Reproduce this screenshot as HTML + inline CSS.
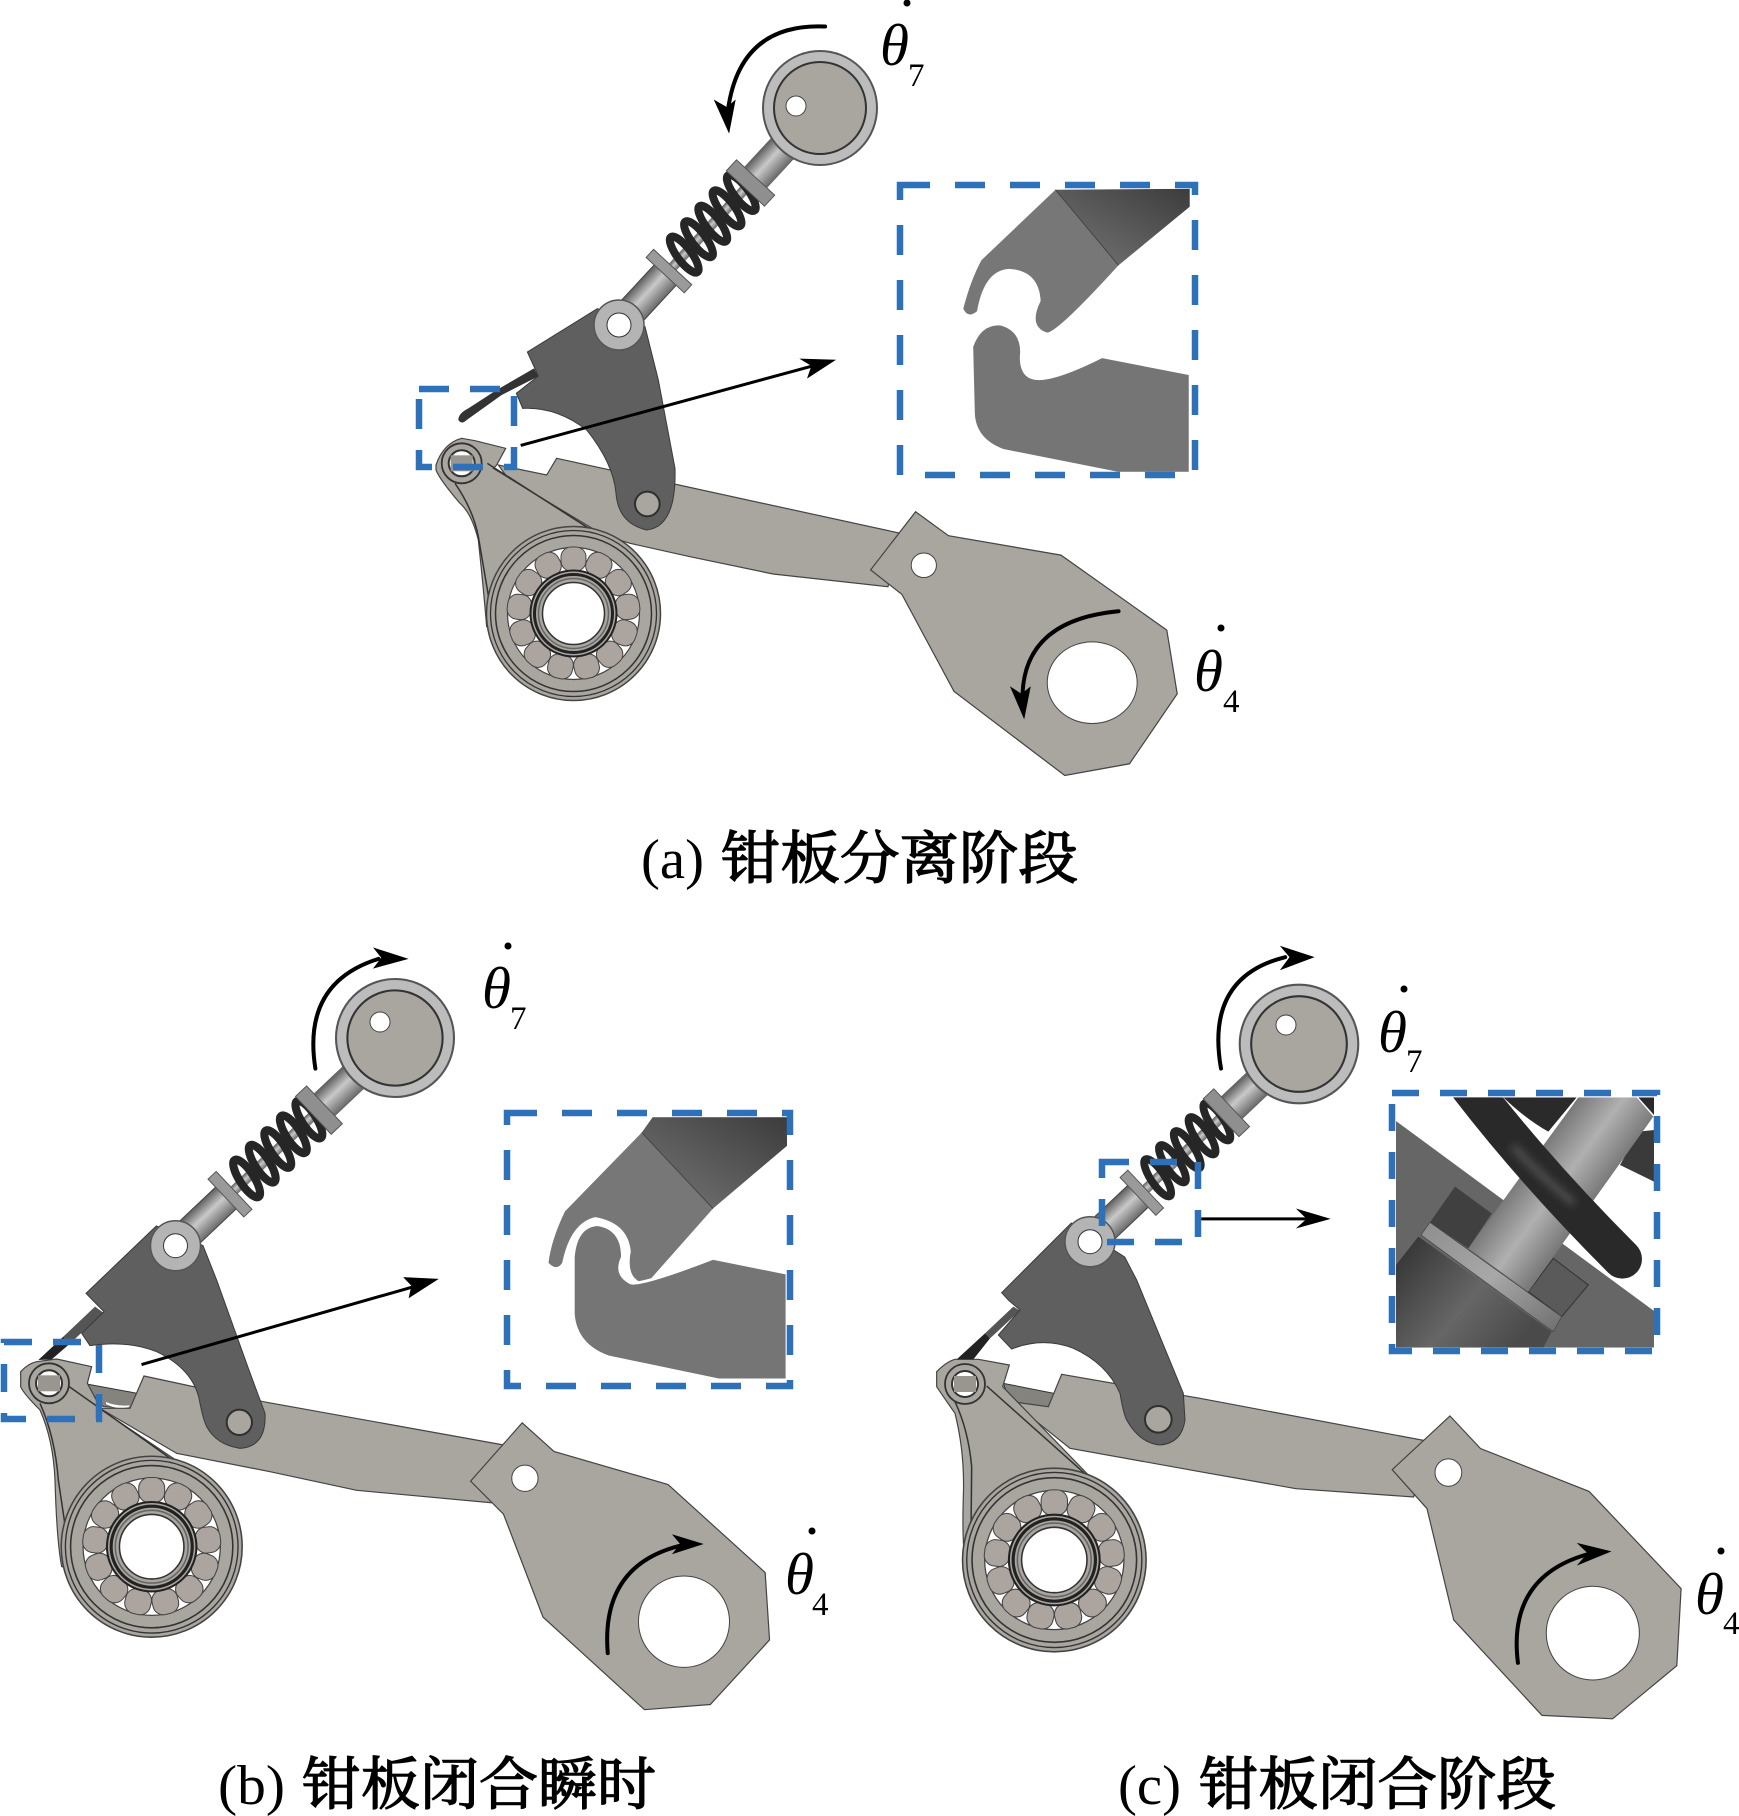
<!DOCTYPE html>
<html><head><meta charset="utf-8"><style>
html,body{margin:0;padding:0;background:#fff}
svg{display:block}
.z *{vector-effect:non-scaling-stroke}
.p{fill:#a9a59f;stroke:#444;stroke-width:1.2}
.d{fill:#5f5f5f;stroke:#3a3a3a;stroke-width:1}
.l{fill:none;stroke:#333;stroke-width:1.5}
.bar{fill:#85837d;stroke:#333;stroke-width:1}
.pin{fill:#a9a59f;stroke:#2f2f2f;stroke-width:2}
.bk{fill:none;stroke:#000;stroke-width:4;stroke-linecap:round}
.pt{fill:none;stroke:#000;stroke-width:3}
.h{fill:#000;stroke:none}
.hole{fill:#fff;stroke:#444;stroke-width:1}
.box{fill:none;stroke:#2f71b8;stroke-width:6.5}
.th{font:italic 59px "Liberation Serif",serif;fill:#000}
.sb{font:33px "Liberation Serif",serif;fill:#000}
.cl{font:56px "Liberation Serif",serif;fill:#000}
.cc{font:400 57px "Liberation Serif","Noto Serif CJK SC",serif;fill:#000;stroke:#000;stroke-width:1.4}
</style></head><body>
<svg width="1739" height="1816" viewBox="0 0 1739 1816" xmlns="http://www.w3.org/2000/svg">
<defs>
<filter id="bl" x="-30%" y="-30%" width="160%" height="160%"><feGaussianBlur stdDeviation="12"/></filter>
<linearGradient id="rod" x1="0" y1="0" x2="0" y2="1"><stop offset="0" stop-color="#5e5e5e"/><stop offset=".45" stop-color="#c9c9c9"/><stop offset="1" stop-color="#6a6a6a"/></linearGradient>
<linearGradient id="dk" x1="0" y1="1" x2="1" y2="0"><stop offset="0" stop-color="#777"/><stop offset="1" stop-color="#3c3c3c"/></linearGradient>
<linearGradient id="cyl" x1="0" y1="0" x2="1" y2=".6"><stop offset="0" stop-color="#2f2f2f"/><stop offset=".6" stop-color="#666"/><stop offset="1" stop-color="#4a4a4a"/></linearGradient>
<linearGradient id="rd2" gradientUnits="userSpaceOnUse" x1="400" y1="250" x2="590" y2="390"><stop offset="0" stop-color="#707070"/><stop offset=".55" stop-color="#b0b0b0"/><stop offset="1" stop-color="#7a7a7a"/></linearGradient>
<linearGradient id="stp" x1="0" y1="0" x2="1" y2="1"><stop offset="0" stop-color="#8d8d8d"/><stop offset=".5" stop-color="#a8a8a8"/><stop offset="1" stop-color="#6e6e6e"/></linearGradient>
<clipPath id="ca"><rect x="925" y="370" width="515" height="555"/></clipPath>
<clipPath id="cb"><rect x="935" y="345" width="500" height="460"/></clipPath>
<clipPath id="cc"><rect x="33" y="37" width="774" height="751"/></clipPath>
<g id="spr">
<rect x="20" y="-15" width="50" height="30" fill="url(#rod)" stroke="#444"/>
<rect x="70" y="-5" width="120" height="10" fill="url(#rod)"/>
<rect x="68" y="-26" width="11" height="52" fill="#9a9a9a" stroke="#555"/>
<rect x="198" y="-15" width="62" height="30" fill="url(#rod)" stroke="#666"/>
<g fill="none" stroke="#262626" stroke-width="8">
<ellipse cx="96" cy="0" rx="7" ry="22" transform="rotate(10 96 0)"/>
<ellipse cx="117" cy="0" rx="7" ry="22" transform="rotate(10 117 0)"/>
<ellipse cx="138" cy="0" rx="7" ry="22" transform="rotate(10 138 0)"/>
<ellipse cx="159" cy="0" rx="7" ry="22" transform="rotate(10 159 0)"/>
<ellipse cx="180" cy="0" rx="7" ry="22" transform="rotate(10 180 0)"/>
</g>
<rect x="186" y="-26" width="15" height="52" fill="#8f8f8f" stroke="#555"/>
</g>
<g id="whl">
<circle r="57" fill="#bcbcbc" stroke="#555" stroke-width="2"/>
<circle r="46" fill="#a9a59f" stroke="#333" stroke-width="2"/>
</g>
<g id="eye">
<circle r="20" fill="#a9a59f" stroke="#333" stroke-width="1.8"/>
<circle r="13" fill="#fff" stroke="#333" stroke-width="2"/>
<rect x="-11" y="-8" width="22" height="16" fill="#999690"/>
</g>
<g id="pv">
<circle r="25" fill="#b4b4b4" stroke="#555" stroke-width="1.5"/>
<circle r="12" fill="#fff" stroke="#333"/>
</g>
<g id="brg">
<circle r="87" fill="#a9a59f" stroke="#444" stroke-width="1.5"/>
<circle r="83" fill="none" stroke="#333" stroke-width="1.3"/>
<circle r="78" fill="none" stroke="#333" stroke-width="1.5"/>
<circle r="66" fill="#fff" stroke="#444" stroke-width="1.2"/>
<g fill="#aca49e" stroke="#444" stroke-width="1">
<rect x="-12.5" y="-66.5" width="25" height="24" rx="10"/>
<rect x="-12.5" y="-66.5" width="25" height="24" rx="10" transform="rotate(27.69)"/>
<rect x="-12.5" y="-66.5" width="25" height="24" rx="10" transform="rotate(55.38)"/>
<rect x="-12.5" y="-66.5" width="25" height="24" rx="10" transform="rotate(83.08)"/>
<rect x="-12.5" y="-66.5" width="25" height="24" rx="10" transform="rotate(110.77)"/>
<rect x="-12.5" y="-66.5" width="25" height="24" rx="10" transform="rotate(138.46)"/>
<rect x="-12.5" y="-66.5" width="25" height="24" rx="10" transform="rotate(166.15)"/>
<rect x="-12.5" y="-66.5" width="25" height="24" rx="10" transform="rotate(-27.69)"/>
<rect x="-12.5" y="-66.5" width="25" height="24" rx="10" transform="rotate(-55.38)"/>
<rect x="-12.5" y="-66.5" width="25" height="24" rx="10" transform="rotate(-83.08)"/>
<rect x="-12.5" y="-66.5" width="25" height="24" rx="10" transform="rotate(-110.77)"/>
<rect x="-12.5" y="-66.5" width="25" height="24" rx="10" transform="rotate(-138.46)"/>
<rect x="-12.5" y="-66.5" width="25" height="24" rx="10" transform="rotate(-166.15)"/>
</g>
<circle r="43" fill="#a9a59f" stroke="#222" stroke-width="2"/>
<circle r="39" fill="none" stroke="#222" stroke-width="3"/>
<circle r="35" fill="none" stroke="#666" stroke-width="1.5"/>
<circle r="31" fill="#fff" stroke="#333" stroke-width="1.5"/>
</g>
</defs>

<!-- panel a -->
<g class="z" transform="translate(410,380) scale(.33333)">
<path class="p" d="M440,235 L1467,459 L1434,620 L1089,582 L840,530 L660,490 L370,400 L265,255 L410,285 Z"/>
</g>
<g class="z" transform="translate(400,0) scale(.5485,.5102)">
<path class="p" d="M940,1003 L1000,1050 L1205,1088 L1398,1235 L1417,1360 L1330,1497 L1212,1520 L1010,1355 L915,1165 L858,1117 Z"/>
<ellipse class="hole" cx="1262" cy="1338" rx="82" ry="80"/>
<ellipse class="hole" cx="955" cy="1108" rx="23" ry="24"/>
</g>
<g class="z" transform="translate(410,380) scale(.33333)">
<path class="p" d="M78,255 Q100,190 155,175 L195,182 L287,205 L260,255 L250,265 L380,345 L555,450 L680,520 L490,960 L230,740 Q220,620 205,480 Q185,400 150,370 Q90,300 78,270 Z"/>
<path class="l" d="M135,310 Q190,390 205,470 L240,675 Q280,540 400,475 Q480,450 555,457 L232,250"/>
<path d="M372,-35 L385,-11 L275,45 L170,120 Q155,135 145,120 Q145,100 175,85 L260,30 Z" fill="#333"/>
<path class="d" d="M352,-84 L562,-214 L705,-160 L745,0 L795,265 Q800,440 710,450 Q625,430 618,340 Q610,250 530,150 Q440,80 338,85 L319,40 L385,-12 Z"/>
<circle class="pin" cx="712" cy="372" r="37"/>
</g>
<use href="#spr" transform="translate(619,325) rotate(-47.2)"/>
<use href="#whl" x="820" y="108"/>
<circle class="hole" cx="796" cy="106" r="10"/>
<use href="#pv" x="619" y="325"/>
<use href="#eye" x="461.7" y="463.3"/>
<use href="#brg" x="573.5" y="613.5"/>
<g class="z" transform="translate(400,0) scale(.5485,.5102)">
<path class="bk" d="M775,52 Q620,45 598,215"/>
<path class="h" d="M600,262 L572,195 L596,210 L612,195 Z"/>
<path class="bk" d="M1310,1198 Q1140,1215 1135,1360"/>
<path class="h" d="M1138,1410 L1112,1345 L1133,1360 L1150,1345 Z"/>
<path class="pt" d="M220,873 L770,712"/>
<path class="h" d="M795,705 L728,703 L750,717 L742,742 Z"/>
<g clip-path="url(#ca)">
<path fill="url(#dk)" d="M1195,372 L1440,370 V405 L1310,520 Z"/>
<path fill="#777" d="M1195,372 L1060,510 Q1040,550 1027,605 Q1035,625 1052,610 Q1065,530 1110,527 Q1165,530 1168,590 Q1145,640 1180,652 Q1200,650 1310,520 Z"/>
<path d="M1195,372 L1310,520" stroke="#444" stroke-width="1" fill="none"/>
<path fill="#757575" d="M1045,680 Q1060,635 1095,638 Q1135,650 1130,700 Q1130,745 1165,745 Q1200,745 1280,702 L1438,735 V925 H1310 L1100,880 Q1050,860 1048,810 Z"/>
</g>
</g>
<path class="box" d="M900,185 H1195 V475 H900 Z" stroke-dasharray="30 25"/>
<path class="box" d="M419,389 H514 V467 H419 Z" stroke-dasharray="30 21"/>

<!-- panel b -->
<g class="z" transform="translate(0,1280) scale(.33333)">
<path class="bar" d="M250,310 L412,340 L395,385 L310,380 Z"/>
<path fill="#fff" d="M318,372 Q350,390 385,382 L390,376 Q350,380 318,366 Z"/>
<path class="p" d="M432,288 L790,365 L1522,497 L1481,669 L1070,631 L810,575 L530,520 L300,385 L390,385 Z"/>
</g>
<g class="z" transform="translate(0,920) scale(.5485,.5714)">
<path class="p" d="M952,880 L1010,930 L1218,988 L1395,1142 L1403,1260 L1295,1373 L1175,1382 L990,1220 L918,1040 L858,982 Z"/>
<ellipse class="hole" cx="1247" cy="1228" rx="83" ry="80"/>
<ellipse class="hole" cx="957" cy="977" rx="24" ry="23"/>
</g>
<g class="z" transform="translate(0,1280) scale(.33333)">
<path class="p" d="M62,275 Q85,250 110,245 L170,237 L275,260 L262,310 L305,390 L535,545 L640,640 L400,900 L185,860 Q170,780 165,600 Q160,480 120,390 Q70,340 62,320 Z"/>
<path class="l" d="M120,370 Q165,470 175,600 L197,748 Q240,640 330,585 Q430,535 535,552 L205,318"/>
<path d="M285,80 L310,98 L205,195 L190,170 Z" fill="#555"/>
<path d="M190,170 L205,195 L155,238 L115,240 Z" fill="#222"/>
<path class="d" d="M258,40 L469,-162 L609,-103 L650,0 L745,265 L795,400 Q800,500 720,505 Q650,495 620,440 Q610,420 600,370 Q585,270 470,215 Q380,180 270,197 L245,160 L312,95 Z"/>
<circle class="pin" cx="718" cy="427" r="38"/>
</g>
<use href="#spr" transform="translate(175.5,1245.7) rotate(-43.4) scale(1.02,1)"/>
<use href="#whl" transform="translate(395,1038) scale(1.035)"/>
<circle class="hole" cx="380" cy="1022" r="10"/>
<use href="#pv" x="175.5" y="1245.7"/>
<use href="#eye" x="49" y="1383.3"/>
<use href="#brg" transform="translate(151.7,1546.7) scale(1.04)"/>
<g class="z" transform="translate(0,920) scale(.5485,.5714)">
<path class="bk" d="M575,260 Q550,110 690,68"/>
<path class="h" d="M745,68 L680,48 L695,66 L680,85 Z"/>
<path class="bk" d="M1108,1283 Q1095,1130 1240,1095"/>
<path class="h" d="M1283,1092 L1225,1075 L1240,1092 L1225,1110 Z"/>
<path class="pt" d="M258,778 L775,636"/>
<path class="h" d="M800,628 L735,625 L750,640 L745,662 Z"/>
<g clip-path="url(#cb)">
<path fill="url(#dk)" d="M1170,372 L1190,345 H1435 V395 L1300,505 Z"/>
<path fill="#777" d="M1170,372 L1030,510 Q1005,560 1000,600 Q1015,615 1025,600 Q1040,530 1085,520 Q1145,530 1150,580 Q1140,630 1178,637 L1300,505 Z"/>
<path d="M1170,372 L1300,505" stroke="#444" stroke-width="1" fill="none"/>
<path fill="#757575" stroke="#fff" stroke-width="3" d="M1045,590 Q1050,535 1090,533 Q1135,540 1135,590 Q1120,620 1150,635 Q1170,640 1300,592 L1435,618 V805 H1310 L1110,765 Q1050,745 1045,690 Z"/>
</g>
</g>
<path class="box" d="M507,1113 H790 V1386 H507 Z" stroke-dasharray="30 25"/>
<path class="box" d="M4,1342 H99 V1419 H4 Z" stroke-dasharray="28 21"/>

<!-- panel c -->
<g class="z" transform="translate(930,1280) scale(.33333)">
<path class="bar" d="M220,310 L372,340 L358,382 L240,365 Z"/>
<path fill="#fff" d="M285,375 Q315,395 345,385 L350,378 Q315,385 285,368 Z"/>
<path class="p" d="M395,283 L810,355 L1491,483 L1451,651 L1098,626 L810,575 L420,505 L245,365 L355,380 Z"/>
</g>
<g class="z" transform="translate(900,920) scale(.535,.5714)">
<path class="p" d="M1028,868 L1085,925 L1288,1000 L1460,1170 L1452,1305 L1332,1398 L1200,1392 L1035,1225 L985,1030 L920,962 Z"/>
<ellipse class="hole" cx="1295" cy="1248" rx="87" ry="82"/>
<ellipse class="hole" cx="1025" cy="967" rx="25" ry="24"/>
</g>
<g class="z" transform="translate(930,1280) scale(.33333)">
<path class="p" d="M20,275 Q50,245 75,238 L145,238 L238,255 L218,320 L480,590 L560,640 L300,1000 L110,880 Q95,800 100,650 Q105,520 75,400 Q40,350 20,320 Z"/>
<path class="l" d="M75,365 Q115,450 125,560 L123,757 Q170,640 280,590 Q380,565 475,590 L170,318"/>
<path d="M250,80 L270,92 L180,175 L165,160 Z" fill="#555"/>
<path d="M165,160 L180,175 L130,238 L80,238 Z" fill="#222"/>
<path class="d" d="M215,38 L424,-171 L584,-69 L620,0 L760,340 L765,420 Q755,490 690,495 Q630,490 590,420 Q580,400 570,340 Q530,250 430,205 Q340,170 245,207 L205,165 L270,90 L235,60 Z"/>
<circle class="pin" cx="685" cy="418" r="40"/>
</g>
<use href="#spr" transform="translate(1090,1241.7) rotate(-43.4) scale(.97,1)"/>
<use href="#whl" transform="translate(1299,1044) scale(1.04)"/>
<circle class="hole" cx="1286" cy="1025" r="10"/>
<use href="#pv" x="1090" y="1241.7"/>
<use href="#eye" x="965" y="1384"/>
<use href="#brg" transform="translate(1054.3,1560) scale(1.055)"/>
<g class="z" transform="translate(900,920) scale(.535,.5714)">
<path class="bk" d="M600,260 Q570,100 720,65"/>
<path class="h" d="M775,65 L710,45 L728,65 L710,88 Z"/>
<path class="bk" d="M1155,1300 Q1135,1150 1285,1110"/>
<path class="h" d="M1330,1105 L1265,1090 L1285,1108 L1265,1130 Z"/>
<path class="pt" d="M563,523 H770"/>
<path class="h" d="M805,523 L740,505 L760,523 L740,540 Z"/>
</g>
<g transform="translate(1385,1085) scale(.33333)">
<g clip-path="url(#cc)">
<path fill="#666" d="M33,108 L807,678 V788 H33 Z"/>
<path fill="#404040" d="M210,305 L320,385 L250,490 L135,412 Z"/>
<path fill="#5a5a5a" stroke="#333" stroke-width="3" d="M505,520 L610,600 L530,695 L430,620 Z"/>
<path fill="#2a2a2a" d="M355,37 H575 L490,140 Q420,100 355,37 Z M760,37 H807 V90 Z"/>
<path fill="#3a3a3a" d="M760,140 L807,135 V290 L705,240 Z"/>
<path fill="url(#cyl)" d="M100,455 L500,740 L475,788 H33 V540 Z"/>
<path fill="url(#stp)" stroke="#444" stroke-width="2" d="M135,412 L530,695 L505,740 L108,450 Z"/>
<path fill="url(#rd2)" d="M250,490 L580,37 H755 L805,95 L430,620 Z"/>
<path d="M250,0 Q450,260 712,522" fill="none" stroke="#292929" stroke-width="118" stroke-linecap="round"/>
<path d="M390,190 Q460,265 560,350" fill="none" stroke="#4f4f4f" stroke-width="22" stroke-linecap="round" filter="url(#bl)"/>
</g>
</g>
<path class="box" d="M1392,1093 H1657 V1351 H1392 Z" stroke-dasharray="27 21"/>
<path class="box" d="M1102,1162 H1198 V1242 H1102 Z" stroke-dasharray="27 21"/>

<!-- labels -->
<circle cx="907" cy="3" r="3.5"/>
<text class="th" x="880" y="65">θ</text><text class="sb" x="908" y="86">7</text>
<circle cx="1221" cy="628" r="3.5"/>
<text class="th" x="1194" y="691">θ</text><text class="sb" x="1223" y="712">4</text>
<circle cx="508" cy="946" r="3.5"/>
<text class="th" x="482" y="1008">θ</text><text class="sb" x="510" y="1029">7</text>
<circle cx="812" cy="1531" r="3.5"/>
<text class="th" x="785" y="1594">θ</text><text class="sb" x="812" y="1615">4</text>
<circle cx="1404" cy="989" r="3.5"/>
<text class="th" x="1378" y="1052">θ</text><text class="sb" x="1406" y="1072">7</text>
<circle cx="1721" cy="1551" r="3.5"/>
<text class="th" x="1695" y="1614">θ</text><text class="sb" x="1723" y="1634">4</text>

<text class="cl" x="641" y="878" textLength="63" lengthAdjust="spacingAndGlyphs">(a)</text>
<text class="cc" x="721" y="878" textLength="357" lengthAdjust="spacingAndGlyphs">钳板分离阶段</text>
<text class="cl" x="218" y="1804" textLength="67" lengthAdjust="spacingAndGlyphs">(b)</text>
<text class="cc" x="302" y="1804" textLength="354" lengthAdjust="spacingAndGlyphs">钳板闭合瞬时</text>
<text class="cl" x="1118" y="1804" textLength="63" lengthAdjust="spacingAndGlyphs">(c)</text>
<text class="cc" x="1199" y="1804" textLength="357" lengthAdjust="spacingAndGlyphs">钳板闭合阶段</text>
</svg>
</body></html>
